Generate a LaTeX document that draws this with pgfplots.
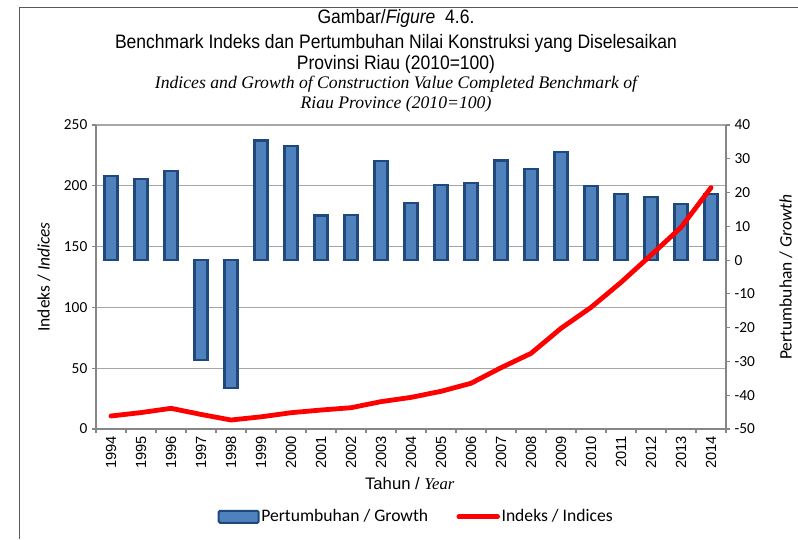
\documentclass[border=0pt]{standalone}
\usepackage{pgfplots}
\usepackage{pgfplotstable}
\pgfplotsset{compat=1.18}
\usepackage{fontspec}
\setmainfont{Liberation Sans}
\newfontfamily\carlito{Carlito}
\newfontfamily\narrow[FakeStretch=0.9]{Liberation Sans}
\newfontfamily\timesf{Liberation Serif}

\definecolor{barfill}{HTML}{4F81BD}
\definecolor{bardraw}{HTML}{1F497D}
\definecolor{axgray}{HTML}{868686}
\definecolor{gridgray}{HTML}{A6A6A6}

\pgfplotstableread{
x growth index
0 24.8 10.7
1 23.9 13.5
2 26.5 17.0
3 -29.5 12.0
4 -37.8 7.4
5 35.4 10.0
6 33.9 13.4
7 13.2 15.6
8 13.4 17.5
9 29.3 22.5
10 16.9 26.0
11 22.3 31.0
12 22.8 37.6
13 29.5 50.4
14 26.9 62.2
15 31.9 82.8
16 21.9 100.0
17 19.6 120.6
18 18.7 143.0
19 16.5 165.8
20 19.6 198.5
}\data

\pgfplotsset{
  base/.style={
    scale only axis, width=472.5pt, height=228pt,
    at={(72pt,82.5pt)}, anchor=south west,
    xmin=-0.5, xmax=20.5,
    /pgf/number format/assume math mode=true,
  },
  barleg/.style={legend image code/.code={\draw[##1, rounded corners=1pt] (0pt,-4.5pt) rectangle (30pt,4.5pt);}},
  lineleg/.style={legend image code/.code={\draw[##1] (1pt,0pt) -- (30pt,0pt);}},
}

\begin{document}
\begin{tikzpicture}[x=0.75pt,y=0.75pt]
\path[use as bounding box] (0,0) rectangle (798,539);
\draw[black!65, line width=0.8pt] (19.5,0) -- (19.5,531.5) -- (798,531.5);

% left axis with grid
\begin{axis}[base,
  ymin=0, ymax=250, ytick={0,50,...,250},
  axis y line*=left, axis x line*=bottom,
  axis line style={axgray, line width=1pt},
  ymajorgrids, grid style={gridgray, line width=0.8pt},
  tick align=outside, major tick length=3pt, minor tick length=3pt,
  tick style={axgray, line width=0.8pt},
  xtick={0,...,20},
  xticklabels={1994,1995,1996,1997,1998,1999,2000,2001,2002,2003,2004,2005,2006,2007,2008,2009,2010,2011,2012,2013,2014},
  major x tick style={draw=none},
  minor xtick={-0.5,0.5,...,20.5},
  xticklabel style={rotate=90, anchor=east, font=\fontsize{11}{12}\selectfont, inner sep=2pt},
  yticklabel style={font=\carlito\fontsize{11.5}{12}\selectfont},
  xlabel={Tahun / {\timesf\itshape Year}},
  xlabel style={at={(axis description cs:0.498,-0.181)}, anchor=center, font=\fontsize{12.5}{14}\selectfont},
  ylabel={Indeks / \textit{Indices}},
  ylabel style={at={(axis description cs:-0.0825,0.5)}, anchor=center, font=\carlito\fontsize{13.1}{14}\selectfont},
]
\addplot[draw=none] coordinates {(0,0)};
\end{axis}

% right axis with bars
\begin{axis}[base,
  ymin=-50, ymax=40, ytick={-50,-40,...,40},
  axis y line*=right, axis x line=none,
  axis line style={axgray, line width=1pt},
  tick align=outside, major tick length=3pt,
  tick style={axgray, line width=0.8pt},
  yticklabel style={font=\carlito\fontsize{11.5}{12}\selectfont},
  ylabel={Pertumbuhan / \textit{Growth}},
  ylabel style={at={(axis description cs:1.095,0.5)}, anchor=center, font=\carlito\fontsize{13.1}{14}\selectfont},
]
\addplot[ybar, bar width=9.75pt, fill=barfill, draw=bardraw, line width=1.6pt] table[x=x,y=growth] {\data};
\end{axis}

% left axis: index line
\begin{axis}[base,
  ymin=0, ymax=250, axis lines=none, xtick=\empty, ytick=\empty,
  legend columns=2,
  legend style={at={(0.508,-0.289)}, anchor=center, draw=none, fill=none,
    font=\carlito\fontsize{13.2}{14}\selectfont,
    /tikz/column 2/.style={column sep=20pt},
    nodes={inner sep=1.2pt}},
]
\addplot[red, line width=3.6pt, line join=round, line cap=round, forget plot] table[x=x,y=index] {\data};
\addlegendimage{fill=barfill, draw=bardraw, line width=1.5pt, barleg}
\addlegendimage{red, line width=3.6pt, line cap=round, lineleg}
\legend{Pertumbuhan / Growth, Indeks / Indices}
\end{axis}

\node[font=\narrow\fontsize{14.6}{16}\selectfont] at (396,521) {Gambar/\textit{Figure}\ \ 4.6.};
\node[font=\narrow\fontsize{14.6}{16}\selectfont] at (396,496) {Benchmark Indeks dan Pertumbuhan Nilai Konstruksi yang Diselesaikan};
\node[font=\narrow\fontsize{14.6}{16}\selectfont] at (396,475) {Provinsi Riau (2010=100)};
\node[font=\timesf\itshape\fontsize{13.25}{15}\selectfont] at (396,455) {Indices and Growth of Construction Value Completed Benchmark of};
\node[font=\timesf\itshape\fontsize{13.25}{15}\selectfont] at (396,435) {Riau Province (2010=100)};
\end{tikzpicture}
\end{document}
